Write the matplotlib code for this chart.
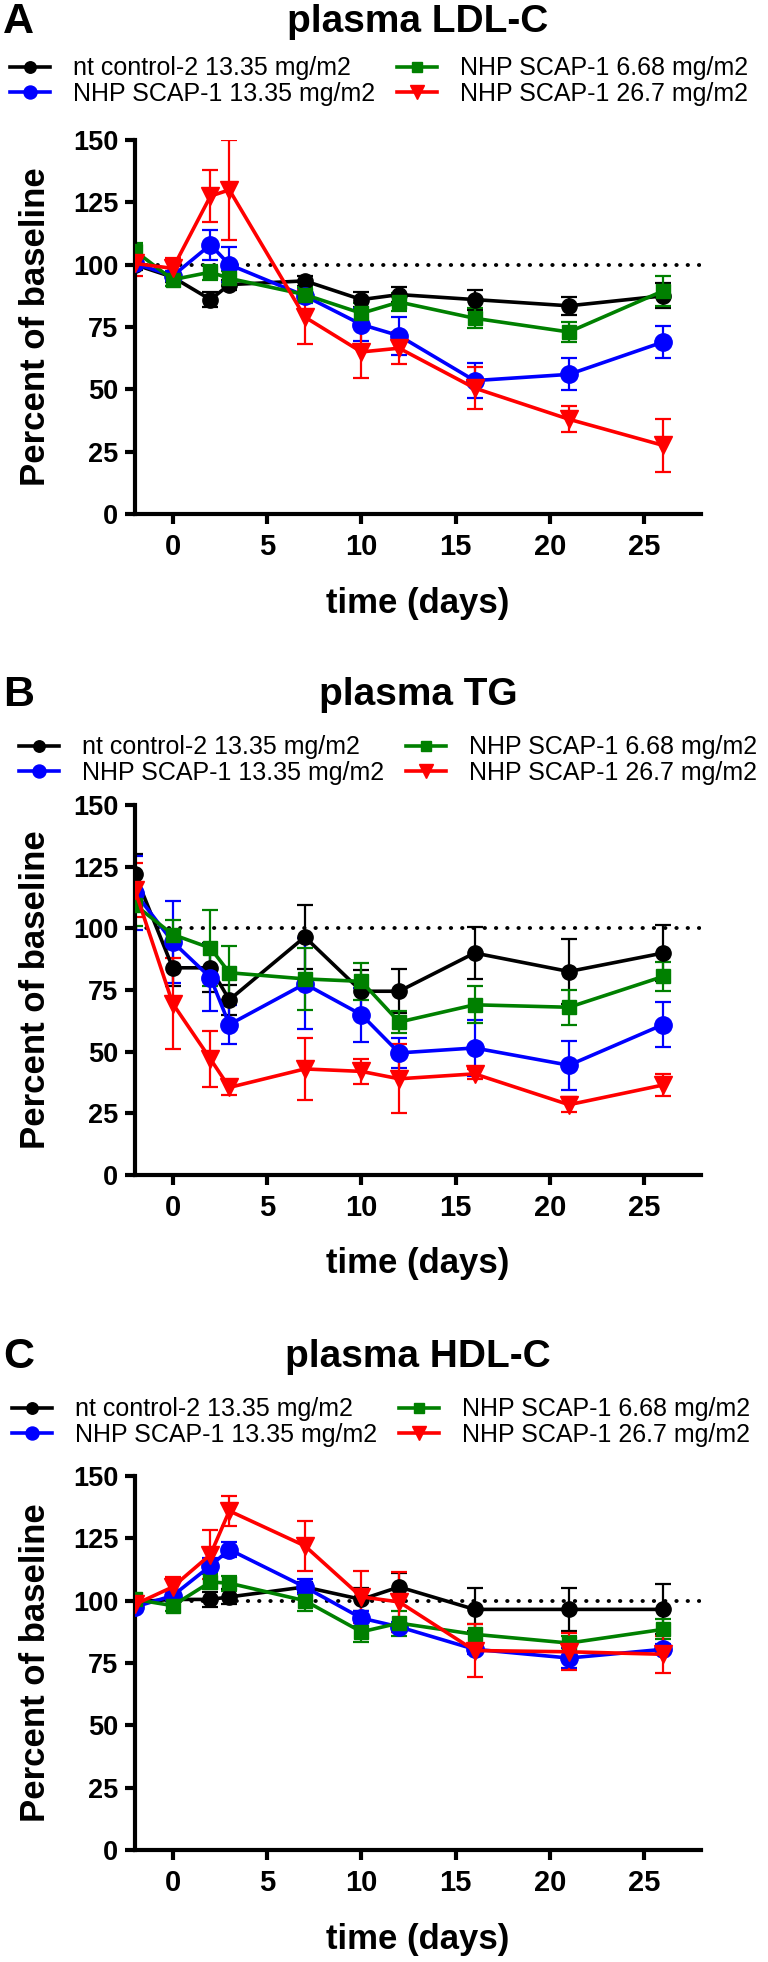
import matplotlib
matplotlib.use("Agg")
import matplotlib.pyplot as plt

plt.rcParams['font.family'] = ['Liberation Sans', 'DejaVu Sans']

days = [-2, 0, 2, 3, 7, 10, 12, 16, 21, 26]

group_labels = ["nt control-2 13.35 mg/m2", "NHP SCAP-1 13.35 mg/m2",
                "NHP SCAP-1 6.68 mg/m2", "NHP SCAP-1 26.7 mg/m2"]
group_colors = ["#000000", "#0000ff", "#008000", "#ff0000"]
group_markers = ["o", "o", "s", "v"]

# plasma LDL-C (percent of baseline, mean and error)
ldl_ctrl = [100, 95, 86, 92, 93.5, 86, 88, 86, 83.5, 87.5]
ldl_ctrl_err = [2, 2, 3, 2, 2, 3, 3, 4, 3.5, 5]
ldl_low = [100.5, 95.5, 108, 100, 87.5, 76, 71.5, 53.5, 56, 69]
ldl_low_err = [2, 2, 6, 7, 3, 6.5, 7.7, 7, 6.4, 6.4]
ldl_half = [105.5, 94, 97, 94.5, 88, 80.5, 85, 78.5, 73, 89.5]
ldl_half_err = [3, 2.5, 3, 3, 3, 4, 3.5, 4, 4, 6]
ldl_high = [100.5, 98.5, 127.5, 130, 79, 65, 66.5, 50.5, 38, 27.5]
ldl_high_err = [5, 4, 10.5, 20, 11, 10.5, 6.5, 8.5, 5.3, 10.5]

# plasma TG
tg_ctrl = [122, 84, 84, 71, 96.5, 74.5, 74.5, 90, 82.5, 90]
tg_ctrl_err = [8, 7.5, 10, 6, 13, 8.5, 9, 10.5, 13, 11.5]
tg_low = [114.5, 94.5, 80, 61, 77.5, 65, 49.5, 51.5, 44.5, 61]
tg_low_err = [15, 16.5, 13.5, 8, 18.5, 11, 6, 11.5, 10, 9]
tg_half = [109.5, 97.5, 92, 82, 79.5, 78.5, 62, 69, 68, 80.5]
tg_half_err = [8.5, 6, 15.5, 11, 12.5, 7.5, 4.5, 7.5, 7, 6]
tg_high = [115.5, 69.5, 47, 35.5, 43, 42, 39, 41, 28.5, 36.5]
tg_high_err = [11, 18.5, 11.5, 3, 12.5, 5, 14, 2, 3, 4.5]

# plasma HDL-C
hdl_ctrl = [99.5, 100.5, 100.5, 101.5, 105.5, 100.5, 105.5, 96.5, 96.5, 96.5]
hdl_ctrl_err = [2, 2, 3, 3, 2, 4.5, 5.5, 8.5, 8.5, 10]
hdl_low = [97.5, 102, 114, 120.5, 105.5, 93, 89.5, 80.5, 77, 80.5]
hdl_low_err = [2, 2, 3, 3, 3, 3, 2, 2, 4, 2]
hdl_half = [100.5, 98, 107.5, 107, 100, 87.5, 91, 86.5, 83, 88.5]
hdl_half_err = [2, 2, 3, 3, 4, 4, 5, 4, 3, 4]
hdl_high = [98.5, 105.5, 118.5, 136, 122, 101.5, 99.5, 80, 79.5, 78.5]
hdl_high_err = [2.5, 4, 10, 6, 10, 10.5, 12, 10.5, 7.5, 7.5]

panels = [
    ("A", "plasma LDL-C", [ldl_ctrl, ldl_low, ldl_half, ldl_high],
     [ldl_ctrl_err, ldl_low_err, ldl_half_err, ldl_high_err]),
    ("B", "plasma TG", [tg_ctrl, tg_low, tg_half, tg_high],
     [tg_ctrl_err, tg_low_err, tg_half_err, tg_high_err]),
    ("C", "plasma HDL-C", [hdl_ctrl, hdl_low, hdl_half, hdl_high],
     [hdl_ctrl_err, hdl_low_err, hdl_half_err, hdl_high_err]),
]

W, H = 768, 1962
fig = plt.figure(figsize=(W / 100, H / 100), dpi=100)

# pixel layout per panel: axes top, axes bottom, title y, legend rows centre, legend left
layout = [
    dict(top=140, bottom=514, title=22, leg=81, leg_x=10),
    dict(top=805, bottom=1175, title=695, leg=760, leg_x=19),
    dict(top=1476, bottom=1850, title=1357, leg=1422, leg_x=12),
]
ax_left, ax_right = 135, 701
marker_sizes = [11, 12.5, 10.5, 13]

for (letter, title, series, errs), lay in zip(panels, layout):
    ax = fig.add_axes([ax_left / W, 1 - lay["bottom"] / H,
                       (ax_right - ax_left) / W, (lay["bottom"] - lay["top"]) / H])
    ax.axhline(100, color="black", lw=2.8, linestyle=(0, (0.1, 2.8)),
               dash_capstyle="round", zorder=1)
    handles = []
    for vals, err, col, mk, ms, lab in zip(series, errs, group_colors, group_markers,
                                           marker_sizes, group_labels):
        ax.errorbar(days, vals, yerr=err, fmt="none", ecolor=col, elinewidth=1.6,
                    capsize=5.5, capthick=1.6, zorder=2)
        ln, = ax.plot(days, vals, color=col, marker=mk, markersize=ms, lw=2.6,
                      label=lab, zorder=3)
        handles.append(ln)

    ax.set_xlim(-2, 28)
    ax.set_ylim(0, 150)
    ax.set_xticks([0, 5, 10, 15, 20, 25])
    ax.set_yticks([0, 25, 50, 75, 100, 125, 150])
    for s in ["top", "right"]:
        ax.spines[s].set_visible(False)
    for s in ["left", "bottom"]:
        ax.spines[s].set_linewidth(3)
    ax.tick_params(axis="both", width=3, length=7, direction="out")
    ax.tick_params(axis="x", labelsize=21, pad=7)
    ax.tick_params(axis="y", labelsize=19.5, pad=5)
    for t in ax.get_xticklabels() + ax.get_yticklabels():
        t.set_fontweight("bold")

    ax.set_xlabel("time (days)", fontsize=25, fontweight="bold", va="center")
    ax.xaxis.set_label_coords(0.5, -(89) / (lay["bottom"] - lay["top"]))
    ax.set_ylabel("Percent of baseline", fontsize=25, fontweight="bold", va="center")
    ax.yaxis.set_label_coords(-(ax_left - 36) / (ax_right - ax_left), 0.5)

    fig.text((ax_left + ax_right) / 2 / W, 1 - lay["title"] / H, title,
             fontsize=28, fontweight="bold", ha="center", va="center")
    fig.text(3 / W, 1 - lay["title"] / H, letter, fontsize=31, fontweight="bold",
             ha="left", va="center")

    ax.legend(handles=handles, ncol=2, loc="center left", frameon=False,
              bbox_to_anchor=(lay["leg_x"] / W, 1 - lay["leg"] / H),
              bbox_transform=fig.transFigure, fontsize=18, borderpad=0,
              borderaxespad=0, handlelength=1.6, handletextpad=0.92,
              columnspacing=0.88, labelspacing=0.05, markerscale=0.75)

fig.savefig("out.png", dpi=100)
